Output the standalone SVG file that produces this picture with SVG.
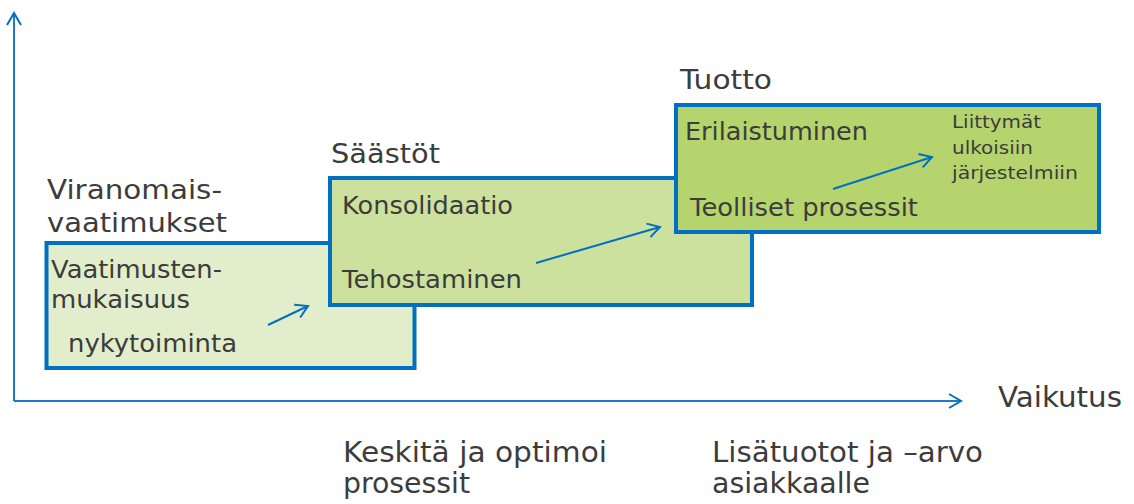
<svg xmlns="http://www.w3.org/2000/svg" width="1134" height="504" viewBox="0 0 1134 504">
<style>
text{font-family:"DejaVu Sans","Verdana",sans-serif;fill:#3c3c3c}
.h{font-size:27px}
.b{font-size:24px}
.s{font-size:17.5px}
.x{font-size:28.5px}
.box{stroke:#0070c0;stroke-width:4}
.ax{stroke:#1b7cc4;stroke-width:2;fill:none}
.ar{stroke:#0070c0;stroke-width:2;fill:none}
</style>
<defs>
<marker id="head" markerUnits="userSpaceOnUse" viewBox="-14 -9 16 18" refX="0" refY="0" markerWidth="16" markerHeight="18" orient="auto">
<path d="M-12,-7 L0,0 L-12,7" fill="none" stroke="#0070c0" stroke-width="2"/>
</marker>
</defs>
<rect width="1134" height="504" fill="#ffffff"/>
<g id="axes">
<path class="ax" d="M14,401 L14,13" marker-end="url(#head)"/>
<path class="ax" d="M14,401 L961,401" marker-end="url(#head)"/>
</g>
<g id="node-viranomais">
<rect class="box" x="46.5" y="243" width="368" height="125" fill="#e2edcb"/>
<text class="h" x="47" y="199" textLength="175" lengthAdjust="spacingAndGlyphs">Viranomais-</text>
<text class="h" x="47" y="232" textLength="180" lengthAdjust="spacingAndGlyphs">vaatimukset</text>
<text class="b" x="51" y="278" textLength="171" lengthAdjust="spacingAndGlyphs">Vaatimusten-</text>
<text class="b" x="51" y="308" textLength="139" lengthAdjust="spacingAndGlyphs">mukaisuus</text>
<text class="b" x="68" y="352" textLength="169" lengthAdjust="spacingAndGlyphs">nykytoiminta</text>
</g>
<g id="node-saastot">
<rect class="box" x="330" y="178" width="422" height="127" fill="#cde19f"/>
<text class="h" x="331" y="163" textLength="109" lengthAdjust="spacingAndGlyphs">Säästöt</text>
<text class="b" x="342" y="214" textLength="171" lengthAdjust="spacingAndGlyphs">Konsolidaatio</text>
<text class="b" x="342" y="288" textLength="180" lengthAdjust="spacingAndGlyphs">Tehostaminen</text>
</g>
<g id="node-tuotto">
<rect class="box" x="676" y="105" width="423" height="127" fill="#b5d46d"/>
<text class="h" x="680" y="89" textLength="92" lengthAdjust="spacingAndGlyphs">Tuotto</text>
<text class="b" x="685" y="140" textLength="183" lengthAdjust="spacingAndGlyphs">Erilaistuminen</text>
<text class="b" x="690" y="216" textLength="228" lengthAdjust="spacingAndGlyphs">Teolliset prosessit</text>
<text class="s" x="952" y="128" textLength="89" lengthAdjust="spacingAndGlyphs">Liittymät</text>
<text class="s" x="952" y="154" textLength="81" lengthAdjust="spacingAndGlyphs">ulkoisiin</text>
<text class="s" x="952" y="179" textLength="126" lengthAdjust="spacingAndGlyphs">järjestelmiin</text>
</g>
<g id="connectors">
<path class="ar" d="M268,325 L308,306" marker-end="url(#head)"/>
<path class="ar" d="M536,263 L660,227" marker-end="url(#head)"/>
<path class="ar" d="M833,189 L932,157" marker-end="url(#head)"/>
</g>
<g id="labels">
<text class="x" x="998" y="407" textLength="124" lengthAdjust="spacingAndGlyphs">Vaikutus</text>
<text class="x" x="343" y="462" textLength="264" lengthAdjust="spacingAndGlyphs">Keskitä ja optimoi</text>
<text class="x" x="343" y="493" textLength="127" lengthAdjust="spacingAndGlyphs">prosessit</text>
<text class="x" x="712" y="462" textLength="271" lengthAdjust="spacingAndGlyphs">Lisätuotot ja –arvo</text>
<text class="x" x="712" y="493" textLength="158" lengthAdjust="spacingAndGlyphs">asiakkaalle</text>
</g>
</svg>
